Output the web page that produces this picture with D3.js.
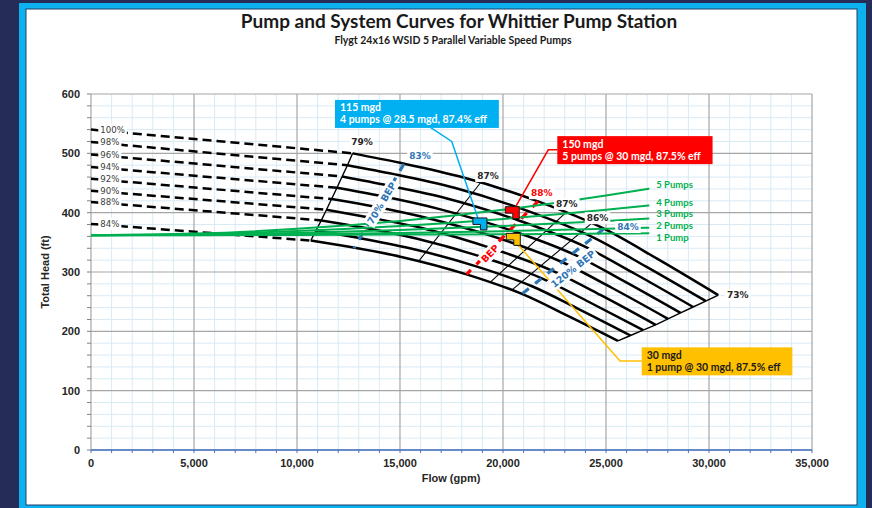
<!doctype html>
<html lang="en">
<head>
  <meta charset="utf-8" />
  <title>Pump and System Curves for Whittier Pump Station</title>
  <script src="https://d3js.org/d3.v7.min.js"></script>
  <style>
    body { margin: 0; background: #262c58; }
    svg { display: block; }
  </style>
</head>
<body>
  <div id="chart"></div>
  <script>
    // axis ticks
    const xTicks = [0, 5000, 10000, 15000, 20000, 25000, 30000, 35000];
    const yTicks = [0, 100, 200, 300, 400, 500, 600];

    // pump curves at each speed, the first segment (0 -> min flow) is drawn dashed
    const speedLabels = ["100%", "98%", "96%", "94%", "92%", "90%", "88%", "86%", "84%"];
    const showDashed = [1, 1, 1, 1, 1, 1, 1, 0, 1];
    const pumpFlows = [
      [0, 12700, 15000, 18000, 21700, 24900, 27500, 30450],
      [0, 12450, 14700, 17640, 21270, 24400, 26950, 29840],
      [0, 12190, 14400, 17280, 20830, 23900, 26400, 29230],
      [0, 11940, 14100, 16920, 20400, 23410, 25850, 28620],
      [0, 11680, 13800, 16560, 19960, 22910, 25300, 28010],
      [0, 11430, 13500, 16200, 19530, 22410, 24750, 27410],
      [0, 11180, 13200, 15840, 19100, 21910, 24200, 26800],
      [0, 10920, 12900, 15480, 18660, 21410, 23650, 26190],
      [0, 10670, 12600, 15120, 18230, 20920, 23100, 25580]
    ];
    const pumpHeads = [
      [540, 500, 484, 460, 419, 373, 322, 261],
      [519, 480, 465, 442, 402, 358, 309, 251],
      [498, 461, 446, 424, 386, 344, 297, 241],
      [477, 442, 428, 406, 370, 330, 285, 231],
      [457, 423, 410, 389, 355, 316, 273, 221],
      [437, 405, 392, 373, 339, 302, 261, 211],
      [418, 387, 375, 356, 324, 289, 249, 202],
      [399, 370, 358, 340, 310, 276, 238, 193],
      [381, 353, 342, 325, 296, 263, 227, 184]
    ];

    // iso-efficiency lines (top speed -> lowest speed)
    const isoFlows = [[18900, 15880], [23050, 19360], [24300, 20410]];
    const isoHeads = [[450, 317], [400, 282], [382, 269]];

    // BEP lines
    const bepNames = ["70% BEP", "BEP", "120% BEP"];
    const bepColors = ["#2e75b6", "#ff0000", "#2e75b6"];
    const bepFlows = [[15190, 12760], [21700, 18230], [24900, 20920]];
    const bepHeads = [[482, 340], [419, 296], [373, 263]];
    const bepLabelFlows = [14110, 19370, 23400];
    const bepLabelHeads = [416, 331, 305];

    // efficiency labels
    const effText = ["79%", "83%", "87%", "88%", "87%", "86%", "84%", "73%"];
    const effColors = ["#262626", "#2e75b6", "#262626", "#ff0000", "#262626", "#262626", "#2e75b6", "#262626"];
    const effFlows = [13155, 15970, 19272, 21879, 23092, 24587, 26068, 31400];
    const effHeads = [519, 495, 462, 433, 415, 391, 376, 261];

    // system curves
    const sysLabels = ["1 Pump", "2 Pumps", "3 Pumps", "4 Pumps", "5 Pumps"];
    const sysFlows = [0, 5000, 10000, 15000, 20000, 25000, 27100];
    const sysHeads = [
      [362, 362.1, 362.4, 363.0, 363.7, 364.7, 365.2],
      [362, 362.4, 363.7, 365.8, 368.8, 372.7, 374.6],
      [362, 363.0, 365.9, 370.7, 377.4, 386.1, 390.3],
      [362, 363.7, 368.9, 377.4, 389.4, 404.8, 412.3],
      [362, 364.7, 372.7, 386.1, 404.8, 428.9, 440.6]
    ];
    const sysLabelHeads = [358, 378.5, 397.5, 416.5, 447];

    // operating points and callouts
    const opText = [
      ["115 mgd", "4 pumps @ 28.5 mgd, 87.4% eff"],
      ["150 mgd", "5 pumps @ 30 mgd, 87.5% eff"],
      ["30 mgd", "1 pump @ 30 mgd, 87.5% eff"]
    ];
    const opColors = ["#00b0f0", "#ff0000", "#ffc000"];
    const opTextColors = ["#ffffff", "#ffffff", "#1a1a1a"];
    const opFlows = [18880, 20450, 20500];
    const opHeads = [381, 400, 355];
    const boxFlows = [11845, 22636, 26733];
    const boxHeads = [590, 529, 173];
    const leaderFlows = [[16456, 17510], [22636, 22199], [26733, 25680]];
    const leaderHeads = [[544, 520], [506, 506], [150, 150]];

    const width = 872, height = 508;
    const svg = d3.select("#chart").append("svg")
      .attr("width", width)
      .attr("height", height);

    // frame
    svg.append("rect").attr("width", width).attr("height", height).attr("fill", "#262c58");
    svg.append("rect").attr("x", 19).attr("y", 3).attr("width", 847).attr("height", 520).attr("fill", "#0db1ee");
    svg.append("rect").attr("x", 26).attr("y", 9).attr("width", 831).attr("height", 496)
      .attr("fill", "#fff").attr("stroke", "#1f3f6a").attr("stroke-width", 1);

    svg.append("text").attr("x", 459).attr("y", 28).attr("text-anchor", "middle")
      .style("font", "bold 19px Lato").style("fill", "#1a1a1a")
      .text("Pump and System Curves for Whittier Pump Station");
    svg.append("text").attr("x", 453).attr("y", 44).attr("text-anchor", "middle")
      .style("font", "bold 10.5px Lato").style("fill", "#1a1a1a")
      .text("Flygt 24x16 WSID 5 Parallel Variable Speed Pumps");

    const x = d3.scaleLinear().domain([0, 35000]).range([91, 812]);
    const y = d3.scaleLinear().domain([0, 600]).range([450, 94]);

    // grid
    const grid = svg.append("g");
    grid.selectAll(".vmin").data(d3.range(1000, 35000, 1000).filter(d => d % 5000)).join("line")
      .attr("x1", d => x(d)).attr("x2", d => x(d)).attr("y1", y(0)).attr("y2", y(600))
      .attr("stroke", "#d9eaf5").attr("stroke-width", 1);
    grid.selectAll(".hmin").data(d3.range(20, 600, 20).filter(d => d % 100)).join("line")
      .attr("y1", d => y(d)).attr("y2", d => y(d)).attr("x1", x(0)).attr("x2", x(35000))
      .attr("stroke", "#d9eaf5").attr("stroke-width", 1);
    grid.selectAll(".vmaj").data(xTicks).join("line")
      .attr("x1", d => x(d)).attr("x2", d => x(d)).attr("y1", y(0)).attr("y2", y(600))
      .attr("stroke", "#a6a6a6").attr("stroke-width", 1.2);
    grid.selectAll(".hmaj").data(yTicks).join("line")
      .attr("y1", d => y(d)).attr("y2", d => y(d)).attr("x1", x(0)).attr("x2", x(35000))
      .attr("stroke", "#a6a6a6").attr("stroke-width", 1.2);

    // axes
    grid.selectAll(".ytk").data(d3.range(0, 601, 20)).join("line")
      .attr("x1", x(0) - 4).attr("x2", x(0)).attr("y1", d => y(d)).attr("y2", d => y(d))
      .attr("stroke", "#808080").attr("stroke-width", 1);
    grid.selectAll(".xtk").data(d3.range(0, 35001, 1000)).join("line")
      .attr("x1", d => x(d)).attr("x2", d => x(d)).attr("y1", y(0)).attr("y2", y(0) + 3)
      .attr("stroke", "#4472c4").attr("stroke-width", 1);
    grid.append("line").attr("x1", x(0)).attr("x2", x(35000)).attr("y1", y(0)).attr("y2", y(0))
      .attr("stroke", "#4472c4").attr("stroke-width", 1.3);

    const tickFont = "bold 11px 'Liberation Sans', Arial, sans-serif";
    svg.selectAll(".ylab").data(yTicks).join("text")
      .attr("x", 80).attr("y", d => y(d) + 4).attr("text-anchor", "end")
      .style("font", tickFont).style("fill", "#262626")
      .text(d => d);
    svg.selectAll(".xlab").data(xTicks).join("text")
      .attr("x", d => x(d)).attr("y", 467).attr("text-anchor", "middle")
      .style("font", tickFont).style("fill", "#262626")
      .text(d => d3.format(",")(d));
    svg.append("text").attr("x", 451).attr("y", 482).attr("text-anchor", "middle")
      .style("font", tickFont).style("fill", "#262626").text("Flow (gpm)");
    svg.append("text").attr("transform", "translate(49,272) rotate(-90)").attr("text-anchor", "middle")
      .style("font", tickFont).style("fill", "#262626").text("Total Head (ft)");

    const line = d3.line().x(d => x(d[0])).y(d => y(d[1]));
    const smooth = d3.line().x(d => x(d[0])).y(d => y(d[1])).curve(d3.curveMonotoneX);
    const pts = (fs, hs) => fs.map((f, j) => [f, hs[j]]);

    // pump curves
    const pumps = svg.append("g");
    pumpFlows.forEach((fs, i) => {
      const p = pts(fs, pumpHeads[i]);
      if (showDashed[i]) {
        pumps.append("path").attr("d", line(p.slice(0, 2)))
          .attr("fill", "none").attr("stroke", "#000").attr("stroke-width", 2.5)
          .attr("stroke-dasharray", "9,5");
      }
      pumps.append("path").attr("d", smooth(p.slice(1)))
        .attr("fill", "none").attr("stroke", "#000").attr("stroke-width", 2.5);
    });
    // min / max flow boundaries
    const leftEdge = pumpFlows.map((fs, i) => [fs[1], pumpHeads[i][1]]);
    const rightEdge = pumpFlows.map((fs, i) => [fs[fs.length - 1], pumpHeads[i][fs.length - 1]]);
    [leftEdge, rightEdge].forEach(e => {
      pumps.append("path").attr("d", line(e)).attr("fill", "none")
        .attr("stroke", "#000").attr("stroke-width", 1.4);
    });
    isoFlows.forEach((fs, i) => {
      pumps.append("path").attr("d", line(pts(fs, isoHeads[i]))).attr("fill", "none")
        .attr("stroke", "#000").attr("stroke-width", 1.1);
    });
    bepFlows.forEach((fs, i) => {
      pumps.append("path").attr("d", line(pts(fs, bepHeads[i]))).attr("fill", "none")
        .attr("stroke", bepColors[i]).attr("stroke-width", 3.2).attr("stroke-dasharray", "8,8");
    });

    // system curves
    const sys = svg.append("g");
    sysHeads.forEach((hs, i) => {
      sys.append("path").attr("d", smooth(pts(sysFlows, hs))).attr("fill", "none")
        .attr("stroke", "#00b050").attr("stroke-width", 2);
    });

    // leader lines and operating points
    const ops = svg.append("g");
    opFlows.forEach((f, i) => {
      const p = pts(leaderFlows[i], leaderHeads[i]).concat([[f, opHeads[i]]]);
      ops.append("path").attr("d", line(p)).attr("fill", "none")
        .attr("stroke", opColors[i]).attr("stroke-width", 1.5);
    });
    ops.selectAll(".mk").data(opFlows).join("path")
      .attr("transform", (d, i) => `translate(${x(d)},${y(opHeads[i])})`)
      .attr("d", "M-7,-6H7V6H0.5V0.5H-7Z")
      .attr("fill", (d, i) => opColors[i])
      .attr("stroke", "#1a1a1a").attr("stroke-width", 1);

    // text with a white box behind it
    function boxedText(g, txt, px, py, font, color, anchor, rot) {
      const t = g.append("g").attr("transform", `translate(${px},${py}) rotate(${rot || 0})`);
      const r = t.append("rect").attr("fill", "#fff");
      const s = t.append("text").attr("text-anchor", anchor || "middle").attr("dy", "0.35em")
        .style("font", font).style("fill", color).text(txt);
      const b = s.node().getBBox();
      r.attr("x", b.x - 2).attr("y", b.y - 1).attr("width", b.width + 4).attr("height", b.height + 2);
    }

    const labels = svg.append("g");
    const speedFont = "8.6px 'DejaVu Sans', Verdana, sans-serif";
    speedLabels.forEach((s, i) => {
      if (!showDashed[i]) return;
      boxedText(labels, s, x(450), y(pumpHeads[i][0]), speedFont, "#404040", "start");
    });

    const effFont = "bold 9px 'DejaVu Sans', Verdana, sans-serif";
    effText.forEach((s, i) => {
      boxedText(labels, s, x(effFlows[i]), y(effHeads[i]), effFont, effColors[i], "middle");
    });

    const bepFont = "bold 9.5px 'DejaVu Sans', Verdana, sans-serif";
    bepNames.forEach((s, i) => {
      const dx = x(bepFlows[i][0]) - x(bepFlows[i][1]);
      const dy = y(bepHeads[i][0]) - y(bepHeads[i][1]);
      const ang = Math.atan2(dy, dx) * 180 / Math.PI;
      boxedText(labels, s, x(bepLabelFlows[i]), y(bepLabelHeads[i]), bepFont, bepColors[i], "middle", ang);
    });

    sysLabels.forEach((s, i) => {
      labels.append("text").attr("x", x(sysFlows[sysFlows.length - 1]) + 7).attr("y", y(sysLabelHeads[i]))
        .attr("dy", "0.35em")
        .style("font", "bold 9.5px Lato").style("fill", "#00b050").text(s);
    });

    // callout boxes
    opText.forEach((lines, i) => {
      const g = svg.append("g").attr("transform", `translate(${x(boxFlows[i])},${y(boxHeads[i])})`);
      const r = g.append("rect").attr("fill", opColors[i]);
      const t = g.append("text").style("font", "bold 10.5px Lato").style("fill", opTextColors[i]);
      lines.forEach((l, j) => {
        t.append("tspan").attr("x", 5).attr("y", 11.5 + j * 12).text(l);
      });
      const b = t.node().getBBox();
      r.attr("width", b.width + 16).attr("height", 28);
    });
  </script>
</body>
</html>
